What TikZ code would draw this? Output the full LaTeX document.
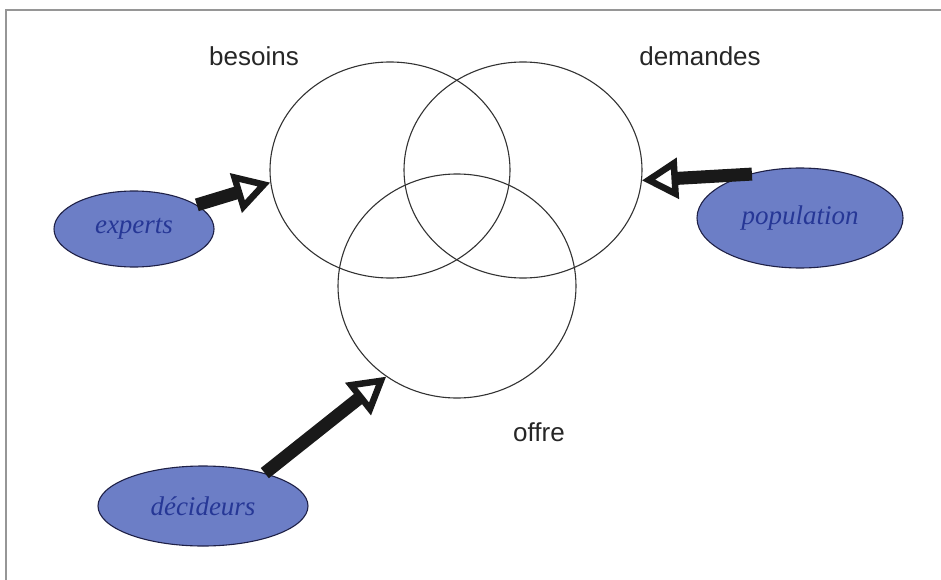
\documentclass[tikz,border=0pt]{standalone}
\usepackage{fontspec}
\setmainfont{Liberation Serif}
\setsansfont{Liberation Sans}
\usetikzlibrary{shapes.geometric,arrows.meta}
\definecolor{framegray}{RGB}{150,150,150}
\definecolor{bubblefill}{RGB}{108,126,198}
\definecolor{bubbleline}{RGB}{30,32,70}
\definecolor{bubbletext}{RGB}{38,55,150}
\definecolor{ringline}{RGB}{50,50,50}
\tikzset{
  ring/.style={ellipse, draw=ringline, line width=1.1pt, inner sep=0pt},
  actor/.style={ellipse, draw=bubbleline, fill=bubblefill, line width=1.1pt, inner sep=0pt,
    text=bubbletext, font=\fontsize{27}{30}\selectfont\itshape},
  setlabel/.style={font=\sffamily\fontsize{26}{30}\selectfont, text=black!85},
  bigarrow/.style={line width=13pt, black!90,
    -{Triangle[fill=white, length=36pt, width=40pt, line width=6.5pt 0]}}
}
\begin{document}
\begin{tikzpicture}[x=1pt,y=-1pt]
\useasboundingbox (0,0) rectangle (941,580);
\draw[framegray, line width=2.5pt] (6,580) -- (6,10) -- (941,10);
% sets
\node[ring, minimum width=240pt, minimum height=216pt] (bes) at (390,170) {};
\node[ring, minimum width=238pt, minimum height=216pt] (dem) at (523,170) {};
\node[ring, minimum width=238pt, minimum height=224pt] (off) at (457,286) {};
% labels
\node[setlabel] (lbes) at (254,56) {besoins};
\node[setlabel] (ldem) at (700,56) {demandes};
\node[setlabel] (loff) at (539,432) {offre};
% actors
\node[actor, minimum width=160pt, minimum height=76pt] (exp) at (134,229) {experts};
\node[actor, minimum width=206pt, minimum height=100pt] (pop) at (800,218) {population};
\node[actor, minimum width=210pt, minimum height=80pt] (dec) at (203,506) {décideurs};
% arrows
\draw[bigarrow] (exp.21) -- (bes.186);
\draw[bigarrow, shorten <=-4pt] (pop.140) -- (dem.-5);
\draw[bigarrow] (dec.28) -- (off.232);
\end{tikzpicture}
\end{document}
